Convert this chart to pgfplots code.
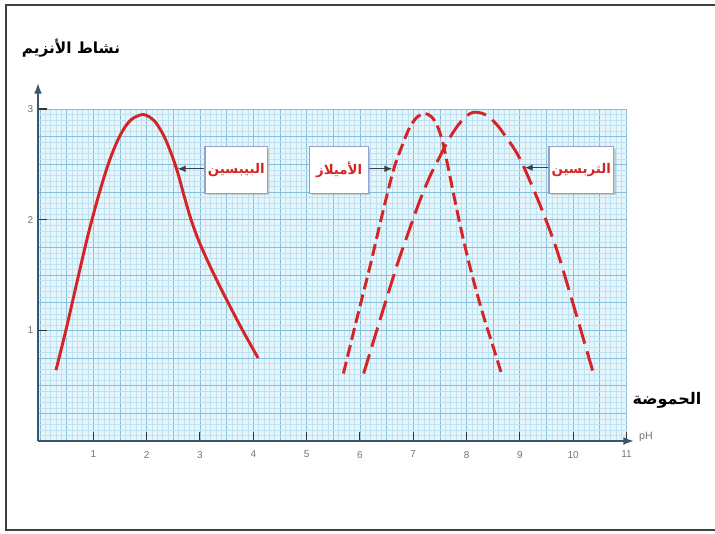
\documentclass[border=0pt]{standalone}
\usepackage{pgfplots}
\pgfplotsset{compat=1.18}
\usepackage{fontspec}
\setmainfont{Liberation Sans}
\newfontfamily\arabicfont[Script=Arabic]{DejaVu Sans}
\TeXXeTstate=1
\usetikzlibrary{arrows.meta,shadows}

\definecolor{paper}{RGB}{228,245,252}
\definecolor{gridmin}{RGB}{190,226,242}
\definecolor{gridmaj}{RGB}{135,190,218}
\definecolor{curve}{RGB}{214,36,36}
\definecolor{axisc}{RGB}{60,85,110}
\definecolor{boxedge}{RGB}{150,160,205}

\tikzset{
  lbl/.style={draw=boxedge, line width=1pt, fill=white, minimum width=44pt,
    minimum height=35pt, inner sep=2pt, text=curve,
    drop shadow={shadow xshift=1.5pt, shadow yshift=-1.5pt, fill=gray!70},
    font=\arabicfont\bfseries\fontsize{10}{12}\selectfont},
  ptr/.style={-{Latex[length=6pt,width=5pt]}, line width=1pt, black!75}
}

\begin{document}
\begin{tikzpicture}
\useasboundingbox (0,0) rectangle (536.25pt,399.75pt);
\begin{axis}[
  at={(28.5pt,69pt)}, anchor=south west,
  width=441.4pt, height=249pt, scale only axis,
  xmin=-0.0375, xmax=11, ymin=0, ymax=3,
  axis line style={draw=none},
  axis background/.style={fill=paper},
  xtick={0,0.5,...,11}, ytick={0,0.25,...,3},
  minor x tick num=4, minor y tick num=4,
  xticklabels={}, yticklabels={},
  tick style={draw=none}, tick pos=left,
  major tick length=7pt, minor tick length=0pt,
  grid=both,
  minor grid style={draw=gridmin, line width=0.35pt},
  major grid style={draw=gridmaj, line width=0.6pt},
  extra x ticks={1,2,...,11},
  extra y ticks={1,2,3},
  extra tick style={grid=none, tick align=inside,
    tick style={draw=black!80, line width=0.8pt}},
  ticklabel style={font=\fontsize{7.5}{9}\selectfont, text=black!55},
  xticklabel style={yshift=-4pt},
  /pgf/number format/assume math mode=true,
]
% pepsin
\addplot[curve, line width=2.2pt, smooth] coordinates {
  (0.30,0.64) (0.5,1.03) (0.7,1.45) (0.9,1.86) (1.1,2.22) (1.3,2.53)
  (1.5,2.76) (1.7,2.9) (1.94,2.95) (2.15,2.89) (2.32,2.76) (2.46,2.6)
  (2.58,2.43) (2.7,2.22) (2.82,2.02) (2.96,1.83) (3.15,1.62) (3.35,1.42)
  (3.56,1.22) (3.8,1.0) (4.09,0.75)
};
% amylase
\addplot[curve, line width=2.2pt, smooth, dash pattern=on 9pt off 4pt] coordinates {
  (5.69,0.61) (5.95,1.12) (6.19,1.58) (6.42,2.05) (6.63,2.45) (6.8,2.68)
  (6.94,2.84) (7.08,2.93) (7.22,2.96) (7.34,2.93) (7.44,2.86) (7.53,2.74)
  (7.60,2.60) (7.77,2.2) (7.94,1.82) (8.13,1.45) (8.32,1.125) (8.5,0.85)
  (8.66,0.60)
};
% trypsin
\addplot[curve, line width=2.2pt, smooth, dash pattern=on 15pt off 6pt] coordinates {
  (6.07,0.61) (6.38,1.1) (6.69,1.58) (6.92,1.9) (7.13,2.18) (7.32,2.4)
  (7.5,2.57) (7.66,2.72) (7.82,2.84) (7.98,2.93) (8.13,2.97) (8.3,2.96)
  (8.44,2.92) (8.6,2.84) (8.75,2.74) (8.92,2.62) (9.07,2.48) (9.38,2.13)
  (9.69,1.73) (10.04,1.17) (10.38,0.61)
};
\draw[ptr] (axis cs:3.12,2.46) -- (axis cs:2.58,2.46);
\draw[ptr] (axis cs:6.15,2.46) -- (axis cs:6.61,2.46);
\draw[ptr] (axis cs:9.57,2.47) -- (axis cs:9.09,2.47);
\node[lbl] at (axis cs:3.68,2.45) {\beginR البيبسين\endR};
\node[lbl] at (axis cs:5.61,2.45) {\beginR الأميلاز\endR};
\node[lbl, minimum width=46pt] at (axis cs:10.15,2.45) {\beginR التربسين\endR};
\end{axis}
\begin{scope}[x=0.75pt,y=0.75pt]
\draw[axisc, line width=1.5pt, -{Latex[length=8pt,width=6pt]}] (38,92) -- (38,450);
\draw[axisc, line width=1.5pt, -{Latex[length=8pt,width=6pt]}] (38,92) -- (634,92);
\node[font=\arabicfont\bfseries\fontsize{11.5}{14}\selectfont] at (71,485) {\beginR نشاط الأنزيم\endR};
\node[font=\arabicfont\bfseries\fontsize{12}{14}\selectfont] at (667,133) {\beginR الحموضة\endR};
\node[font=\fontsize{8}{9}\selectfont, text=black!55] at (646,96) {pH};
\draw[line width=1.5pt, black!75] (715,528) -- (6,528) -- (6,3) -- (715,3);
\end{scope}
\end{tikzpicture}
\end{document}
